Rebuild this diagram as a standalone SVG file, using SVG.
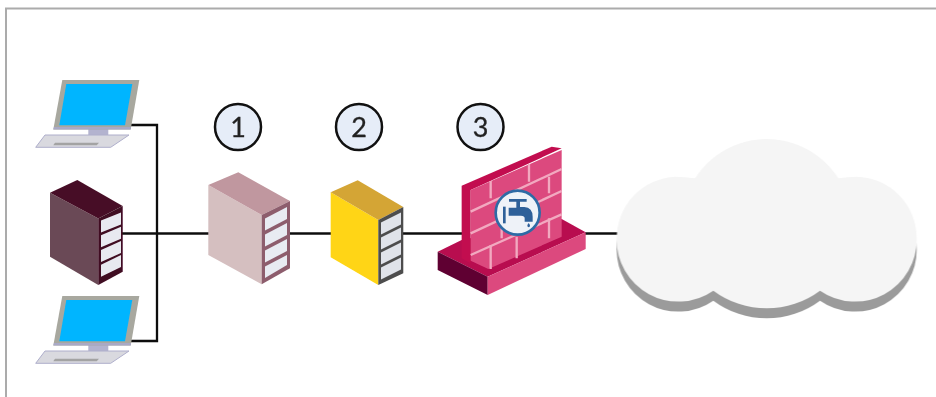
<svg xmlns="http://www.w3.org/2000/svg" width="936" height="397" viewBox="0 0 936 397">
<style>
.wire{fill:none;stroke:#0a0a0a;stroke-width:2.300}
.badge{fill:#e6edf8;stroke:#111;stroke-width:2.500}
.num{font-family:"Lato","Liberation Sans",sans-serif;font-size:27px;fill:#222;stroke:#222;stroke-width:.3;text-anchor:middle}
.brick{fill:none;stroke:#f2a9c0;stroke-width:7}
</style>
<defs>
<filter id="soft" x="-5%" y="-5%" width="110%" height="110%"><feGaussianBlur stdDeviation="0.5"/></filter>
<g id="laptop">
<polygon points="88.300,129 108.300,129 108.300,136 88.300,136" fill="#b3b3cf"/>
<polygon points="45,135 129,135 110.700,147.300 35.700,147.300" fill="#d9d9df" stroke="#aeaecb" stroke-width="1"/>
<polygon points="55,142.700 99,142.700 96.700,145.300 53.300,145.300" fill="#a3a3a3"/>
<polygon points="62.300,80 139.300,80 130.700,129.500 53.300,129.500" fill="#a8a89f"/>
<polygon points="53.300,129.500 130.700,129.500 131,127 54,127" fill="#a9a9c6"/>
<polygon points="66.300,84 132.300,84 125,125.300 59.300,125.300" fill="#00b5ff"/>
</g>
</defs>
<path d="M6 397V8.500H936" fill="none" stroke="#ababab" stroke-width="2"/>
<g filter="url(#soft)">
<g id="connectors">
<path class="wire" d="M130 125H157V341H130"/>
<path class="wire" d="M122 233.500H209M290 233.500H331M403 233.500H463M585 233.500H618"/>
</g>
<g id="laptop-top"><use href="#laptop"/></g>
<g id="laptop-bottom"><use href="#laptop" y="216"/></g>
<g id="server-client">
<polygon points="50,192.700 98.300,218.500 98.300,285 50,256.700" fill="#6b4a56"/>
<polygon points="50,192.700 77.300,180 122.700,206 98.300,218.500" fill="#470f26"/>
<polygon points="98.300,218.500 122.700,206 122.700,271.700 98.300,285" fill="#3f0a20"/>
<g fill="#e8e9f0">
<polygon points="101,220.500 121,212.500 121,224.500 101,232.500"/>
<polygon points="101,235.300 121,226.700 121,238.700 101,247.300"/>
<polygon points="101,250 121,240.900 121,252.900 101,262"/>
<polygon points="101,264.800 121,255 121,267 101,276.800"/>
</g>
</g>
<g id="server-1">
<polygon points="208.300,185 261.700,215 261.700,284.300 208.300,255" fill="#d5bfc0"/>
<polygon points="208.300,185 238.300,172.300 290,201 261.700,215" fill="#c0979f"/>
<polygon points="261.700,215 290,201 290,268.300 261.700,284.300" fill="#8d5d6d"/>
<g fill="#e8ebf2">
<polygon points="265,218.500 287,207 287,219 265,230.500"/>
<polygon points="265,234.500 287,223 287,235 265,246.500"/>
<polygon points="265,250.500 287,239 287,251 265,262.500"/>
<polygon points="265,266.500 287,255 287,265 265,278"/>
</g>
</g>
<g id="server-2">
<polygon points="330.700,192.300 378.300,220 378.300,285 330.700,257.300" fill="#ffd513"/>
<polygon points="330.700,192.300 357.700,180.300 403.300,207 378.300,220" fill="#d4a534"/>
<polygon points="378.300,220 403.300,207 403.300,273.300 378.300,285" fill="#4d4d4d"/>
<g fill="#e0e3ea">
<polygon points="381,222.500 401,212.500 401,224.500 381,234.500"/>
<polygon points="381,237.500 401,227.500 401,239.500 381,249.500"/>
<polygon points="381,252.500 401,242.500 401,254.500 381,264.500"/>
<polygon points="381,267.500 401,257.500 401,269.500 381,279.500"/>
</g>
</g>
<g id="firewall" transform="translate(425 95) scale(.33333)">
<polygon points="38,470 110,435 410,372 482,412 188,545" fill="#b80c50"/>
<polygon points="38,470 188,545 188,600 38,525" fill="#5e0030"/>
<polygon points="188,545 482,412 482,462 188,600" fill="#dc4a7e"/>
<polygon points="110,272 380,155 410,160 137,285 137,505 110,490" fill="#c2104f"/>
<polygon points="137,285 410,165 410,425 190,522 137,497" fill="#dc4a7e"/>
<g class="brick">
<path d="M137 350L410 222M137 415L410 288M137 480L410 358"/>
<path d="M197 258V310M312 207V260M372 245V295M255 315V365M197 450V522M275 425V490M372 370V430M230 400V430"/>
</g>
<circle cx="278" cy="353" r="66" fill="#eef2f8" stroke="#2f6ba5" stroke-width="8"/>
<g fill="#2e6099">
<rect x="234" y="335" width="8" height="50"/>
<path d="M252 312H305V320H285V336H298Q323 338 323 365V380H299V370Q299 362 288 362H251V338H274V320H252Z"/>
<path d="M311 384Q319 394 311 397Q303 394 311 384Z"/>
</g>
</g>
<g id="cloud" transform="translate(600 125) scale(.33333)">
<path d="M50 370A185 185 0 0 1 225 185Q255 185 285 190A255 255 0 0 1 715 190Q745 185 770 185A185 185 0 0 1 950 370A185 185 0 0 1 660 527A268 268 0 0 1 340 527A185 185 0 0 1 50 370Z" fill="#9b9b9b"/>
<path d="M50 340A185 185 0 0 1 225 155Q255 155 285 160A255 255 0 0 1 715 160Q745 155 770 155A185 185 0 0 1 950 340A185 185 0 0 1 660 497A268 268 0 0 1 340 497A185 185 0 0 1 50 340Z" fill="#f5f5f5"/>
</g>
</g>
<g id="badge-1"><circle class="badge" cx="238" cy="127" r="23"/><text class="num" x="238" y="137">1</text></g>
<g id="badge-2"><circle class="badge" cx="359" cy="127" r="23"/><text class="num" x="359" y="137">2</text></g>
<g id="badge-3"><circle class="badge" cx="480.500" cy="127" r="23"/><text class="num" x="480.500" y="137">3</text></g>
</svg>
